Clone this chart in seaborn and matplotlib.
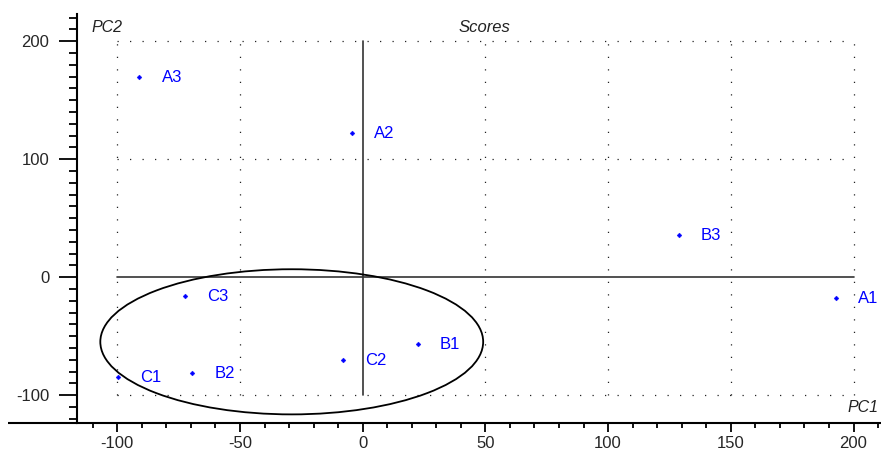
import numpy as np
import pandas as pd
import matplotlib
matplotlib.use("Agg")
import matplotlib.pyplot as plt
from matplotlib.patches import Ellipse
from matplotlib.ticker import MultipleLocator
import seaborn as sns

# scores
samples = ["A1", "A2", "A3", "B1", "B2", "B3", "C1", "C2", "C3"]
pc1 = [192.8, -4.5, -91.0, 22.4, -69.4, 128.8, -99.6, -8.2, -72.3]
pc2 = [-17.8, 122.0, 169.5, -56.8, -81.4, 35.6, -84.7, -70.3, -16.1]

x_ticks = [-100, -50, 0, 50, 100, 150, 200]
y_ticks = [-100, 0, 100, 200]

# ellipse drawn round the B/C cluster
ell_center = (-28.9, -54.7)
ell_width = 156.0
ell_height = 123.0

df = pd.DataFrame({"sample": samples, "PC1": pc1, "PC2": pc2})

sns.set_theme(style="white")
plt.rcParams["font.family"] = ["Liberation Sans", "DejaVu Sans"]
plt.rcParams["axes.unicode_minus"] = False

fig = plt.figure(figsize=(8.81, 4.5), dpi=100)
ax = fig.add_axes([77 / 881, 1 - 423 / 450, 804 / 881, 409 / 450])

ax.set_xlim(-116.4, 211.2)
ax.set_ylim(-123.5, 223.1)

# dotted grid, only inside the score range
dot = (0, (1, 9))
for gx in [-100, -50, 50, 100, 150, 200]:
    ax.plot([gx, gx], [-100, 200], color="#222222", lw=0.9, ls=dot, zorder=1)
for gy in [-100, 100, 200]:
    ax.plot([-100, 200], [gy, gy], color="#222222", lw=0.9, ls=dot, zorder=1)

# zero lines
ax.plot([-100, 200], [0, 0], color="#333333", lw=1.2, zorder=2)
ax.plot([0, 0], [-100, 200], color="#333333", lw=1.2, zorder=2)

ax.add_patch(Ellipse(ell_center, ell_width, ell_height, fill=False,
                     edgecolor="black", lw=1.3, zorder=3))

sns.scatterplot(data=df, x="PC1", y="PC2", ax=ax, color="blue", marker="D",
                s=6, edgecolor="blue", linewidth=0.3, zorder=4, legend=False)

for _, row in df.iterrows():
    ax.annotate(row["sample"], (row["PC1"], row["PC2"]), xytext=(16, 0),
                textcoords="offset points", va="center", ha="left",
                color="blue", fontsize=12, zorder=5)

ax.set_xticks(x_ticks)
ax.set_yticks(y_ticks)
ax.xaxis.set_minor_locator(MultipleLocator(10))
ax.yaxis.set_minor_locator(MultipleLocator(10))
ax.tick_params(axis="y", which="major", direction="out", length=13, width=1.3,
               color="black", labelsize=12, pad=7, left=True)
ax.tick_params(axis="y", which="minor", direction="out", length=5.5, width=1.3,
               color="black", left=True)
ax.tick_params(axis="x", which="major", direction="out", length=6.5, width=1.3,
               color="black", labelsize=12, pad=3, bottom=True)
ax.tick_params(axis="x", which="minor", direction="out", length=3.8, width=1.3,
               color="black", bottom=True)

for side in ["top", "right"]:
    ax.spines[side].set_visible(False)
for side in ["left", "bottom"]:
    ax.spines[side].set_color("black")
    ax.spines[side].set_linewidth(1.5)
# bottom axis line runs a bit past the left axis
ax.plot([(8 - 77) / 804, 0], [0, 0], transform=ax.transAxes, color="black",
        lw=1.5, clip_on=False, solid_capstyle="butt")

ax.set_xlabel("")
ax.set_ylabel("")
ax.text(92 / 881, 1 - 27 / 450, "PC2", transform=fig.transFigure, style="italic",
        fontsize=11.5, ha="left", va="center", color="#222222")
ax.text(484 / 881, 1 - 27 / 450, "Scores", transform=fig.transFigure, style="italic",
        fontsize=12, ha="center", va="center", color="#222222")
ax.text(879 / 881, 1 - 408 / 450, "PC1", transform=fig.transFigure, style="italic",
        fontsize=11.5, ha="right", va="center", color="#222222")

fig.savefig("out.png", dpi=100)
